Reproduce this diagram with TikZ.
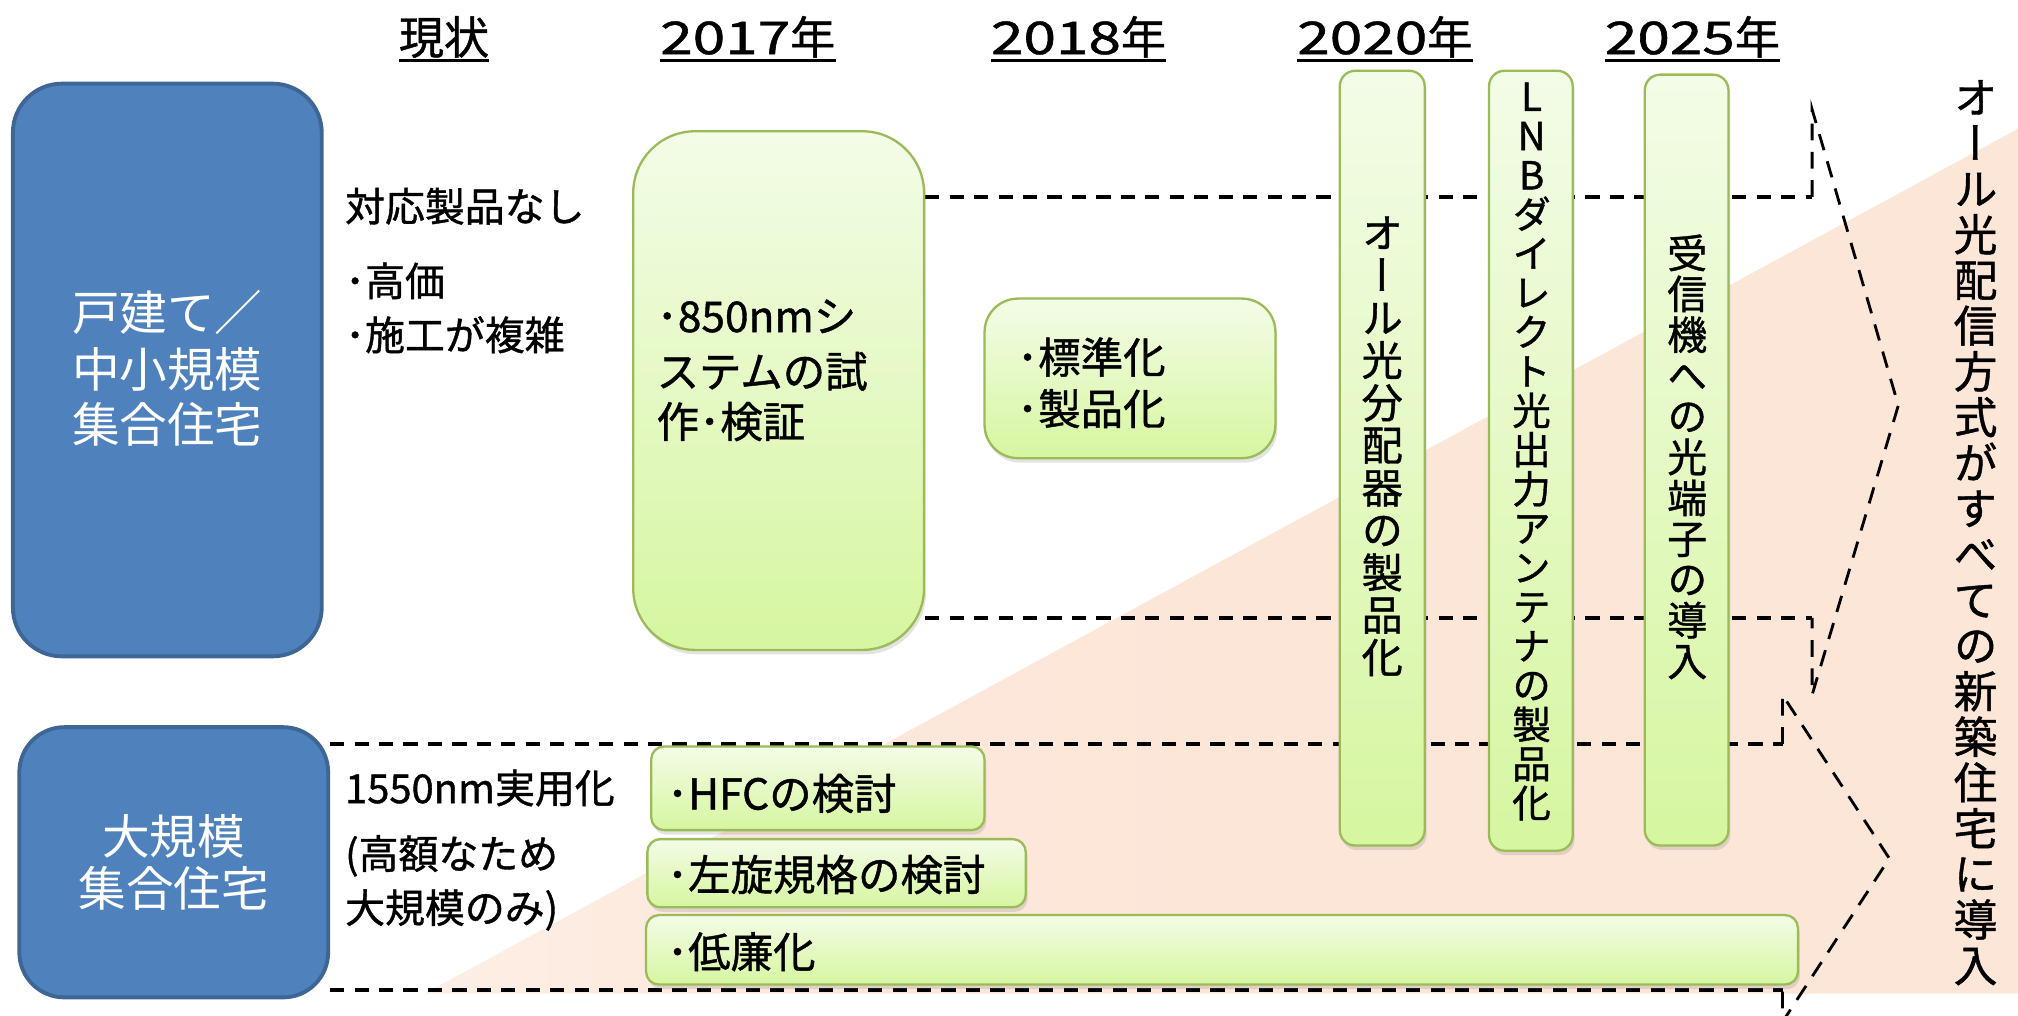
\documentclass[tikz,border=0pt]{standalone}
\usepackage{fontspec}
\setmainfont{Noto Sans CJK JP}[FakeBold=1.0]
\newfontfamily\vfont{Noto Sans CJK JP}[RawFeature=+vert,FakeBold=1.0]
\newfontfamily\wfont{Noto Sans CJK JP}
\usetikzlibrary{shadows,fit}
\definecolor{bluefill}{HTML}{4F81BD}
\definecolor{blueline}{HTML}{3D6595}
\definecolor{gline}{HTML}{9BBB59}
\definecolor{gtop}{HTML}{F3FCE7}
\definecolor{gbot}{HTML}{D6F6A0}
\definecolor{peach}{HTML}{FCE6D8}
\pgfdeclarehorizontalshading{pkshade}{100bp}{color(0bp)=(white); color(18bp)=(peach!45!white); color(34bp)=(peach!88!white); color(50bp)=(peach); color(100bp)=(peach)}
\newcommand\widedig[1]{\scalebox{1.3}[1]{#1}}
\pgfdeclarelayer{bgg}
\pgfdeclarelayer{bgl}
\pgfsetlayers{bgg,bgl,main}
\begin{document}
\begin{tikzpicture}[x=1pt,y=-1pt,
  fs/.style={font=\fontsize{#1}{#1}\selectfont},
  bbox/.style={draw=blueline, line width=3pt, fill=bluefill, rounded corners=#1, inner sep=0pt},
  gbox/.style={draw=gline, line width=1.8pt, top color=gtop, bottom color=gbot, rounded corners=#1, inner sep=0pt, drop shadow={opacity=0.22, shadow xshift=1.5pt, shadow yshift=-3.5pt}},
  txt/.style={inner sep=0pt, anchor=base west},
  wtxt/.style={inner sep=0pt, anchor=base, text=white, font=\wfont\fontsize{37}{37}\selectfont},
  hdr/.style={inner sep=0pt, anchor=base, fs=35},
  vtxt/.style={inner sep=0pt, anchor=north, align=center},
  hline/.style={line width=3pt, dash pattern=on 11pt off 8pt},
  cline/.style={line width=2.2pt, dash pattern=on 13pt off 9pt},
  uline/.style={line width=2.5pt},
]
\useasboundingbox (0,0) rectangle (1568,789);
\clip (0,0) rectangle (1568,789);

% headers
\node[hdr] (h0) at (345,42) {現状};
\node[hdr] (h1) at (581,42) {\widedig{2017}年};
\node[hdr] (h2) at (838,42) {\widedig{2018}年};
\node[hdr] (h3) at (1076,42) {\widedig{2020}年};
\node[hdr] (h4) at (1315,42) {\widedig{2025}年};
\foreach \h in {h0,h1,h2,h3,h4} \draw[uline] ([yshift=-5pt]\h.base west) -- ([yshift=-5pt]\h.base east);

% blue boxes
\node[bbox=38pt, fit={(10,65) (250,510)}] (b1) {};
\node[bbox=35pt, fit={(15,565) (255,775)}] (b2) {};
\node[wtxt] (b1a) at (130,257) {戸建て／};
\node[wtxt] (b1b) at (130,301) {中小規模};
\node[wtxt] (b1c) at (130,344) {集合住宅};
\node[wtxt] (b2a) at (135,664) {大規模};
\node[wtxt] (b2b) at (135,704) {集合住宅};

% left texts
\node[txt, fs=31] (l1) at (268,172) {対応製品なし};
\node[txt, fs=31] (l2) at (268,230) {･高価};
\node[txt, fs=31] (l3) at (268,272) {･施工が複雑};
\node[txt, fs=31] (l4) at (268,624) {1550nm実用化};
\node[txt, fs=31] (l5) at (268,675) {(高額なため};
\node[txt, fs=31] (l6) at (268,717) {大規模のみ)};

% green boxes
\node[gbox=48pt, fit={(492,102) (718,505)}] (A) {};
\node[gbox=26pt, fit={(765,232) (991,356)}] (B) {};
\node[gbox=12pt, fit={(1041,55) (1107,657)}] (V1) {};
\node[gbox=12pt, fit={(1157,55) (1222,661)}] (V2) {};
\node[gbox=12pt, fit={(1278,58) (1343,657)}] (V3) {};
\node[gbox=10pt, fit={(506,580) (765,645)}] (H1) {};
\node[gbox=10pt, fit={(503,652) (797,705)}] (H2) {};
\node[gbox=10pt, fit={(502,711) (1397,765)}] (H3) {};

\node[txt, fs=33] (a1) at (510,258) {･850nmシ};
\node[txt, fs=33] (a2) at (510,301) {ステムの試};
\node[txt, fs=33] (a3) at (510,340) {作･検証};
\node[txt, fs=33] (bb1) at (790,290) {･標準化};
\node[txt, fs=33] (bb2) at (790,330) {･製品化};
\node[txt, fs=33] (hh1) at (518,629) {･HFCの検討};
\node[txt, fs=33] (hh2) at (518,692) {･左旋規格の検討};
\node[txt, fs=33] (hh3) at (518,752) {･低廉化};

% vertical texts
\node[vtxt, font=\vfont\fontsize{32}{33}\selectfont] (v1) at (1074,168) {オ\\ー\\ル\\光\\分\\配\\器\\の\\製\\品\\化};
\node[vtxt, font=\vfont\fontsize{30}{30.5}\selectfont] (v2) at (1190,64) {L\\N\\B\\ダ\\イ\\レ\\ク\\ト\\光\\出\\力\\ア\\ン\\テ\\ナ\\の\\製\\品\\化};
\node[vtxt, font=\vfont\fontsize{31}{31.7}\selectfont] (v3) at (1311,182) {受\\信\\機\\へ\\の\\光\\端\\子\\の\\導\\入};
\node[vtxt, font=\vfont\fontsize{34}{35.5}\selectfont] (rc) at (1535,62) {オ\\ー\\ル\\光\\配\\信\\方\\式\\が\\す\\べ\\て\\の\\新\\築\\住\\宅\\に\\導\\入};

% chevron coordinates
\coordinate (u1) at (1408,153);
\coordinate (u2) at (1408,85);
\coordinate (u3) at (1475,315);
\coordinate (u4) at (1408,540);
\coordinate (u5) at (1408,480);
\coordinate (w1) at (1385,578);
\coordinate (w2) at (1385,540);
\coordinate (w3) at (1468,667);
\coordinate (w4) at (1385,794);
\coordinate (w5) at (1385,769);

\begin{pgfonlayer}{bgg}
\shade[shading=pkshade] (330,772) -- (1568,100) -- (1568,772) -- cycle;
\end{pgfonlayer}
\begin{pgfonlayer}{bgl}
\draw[hline] (A.east |- u1) -- (u1);
\draw[hline] (A.east |- u5) -- (u5);
\draw[hline] (b2.east |- w1) -- (w1);
\draw[hline] (b2.east |- w5) -- (w5);
\draw[cline] (u1) -- (u2) -- (u3) -- (u4) -- (u5);
\draw[cline] (w1) -- (w2) -- (w3) -- (w4) -- (w5);
\end{pgfonlayer}
\end{tikzpicture}
\end{document}
